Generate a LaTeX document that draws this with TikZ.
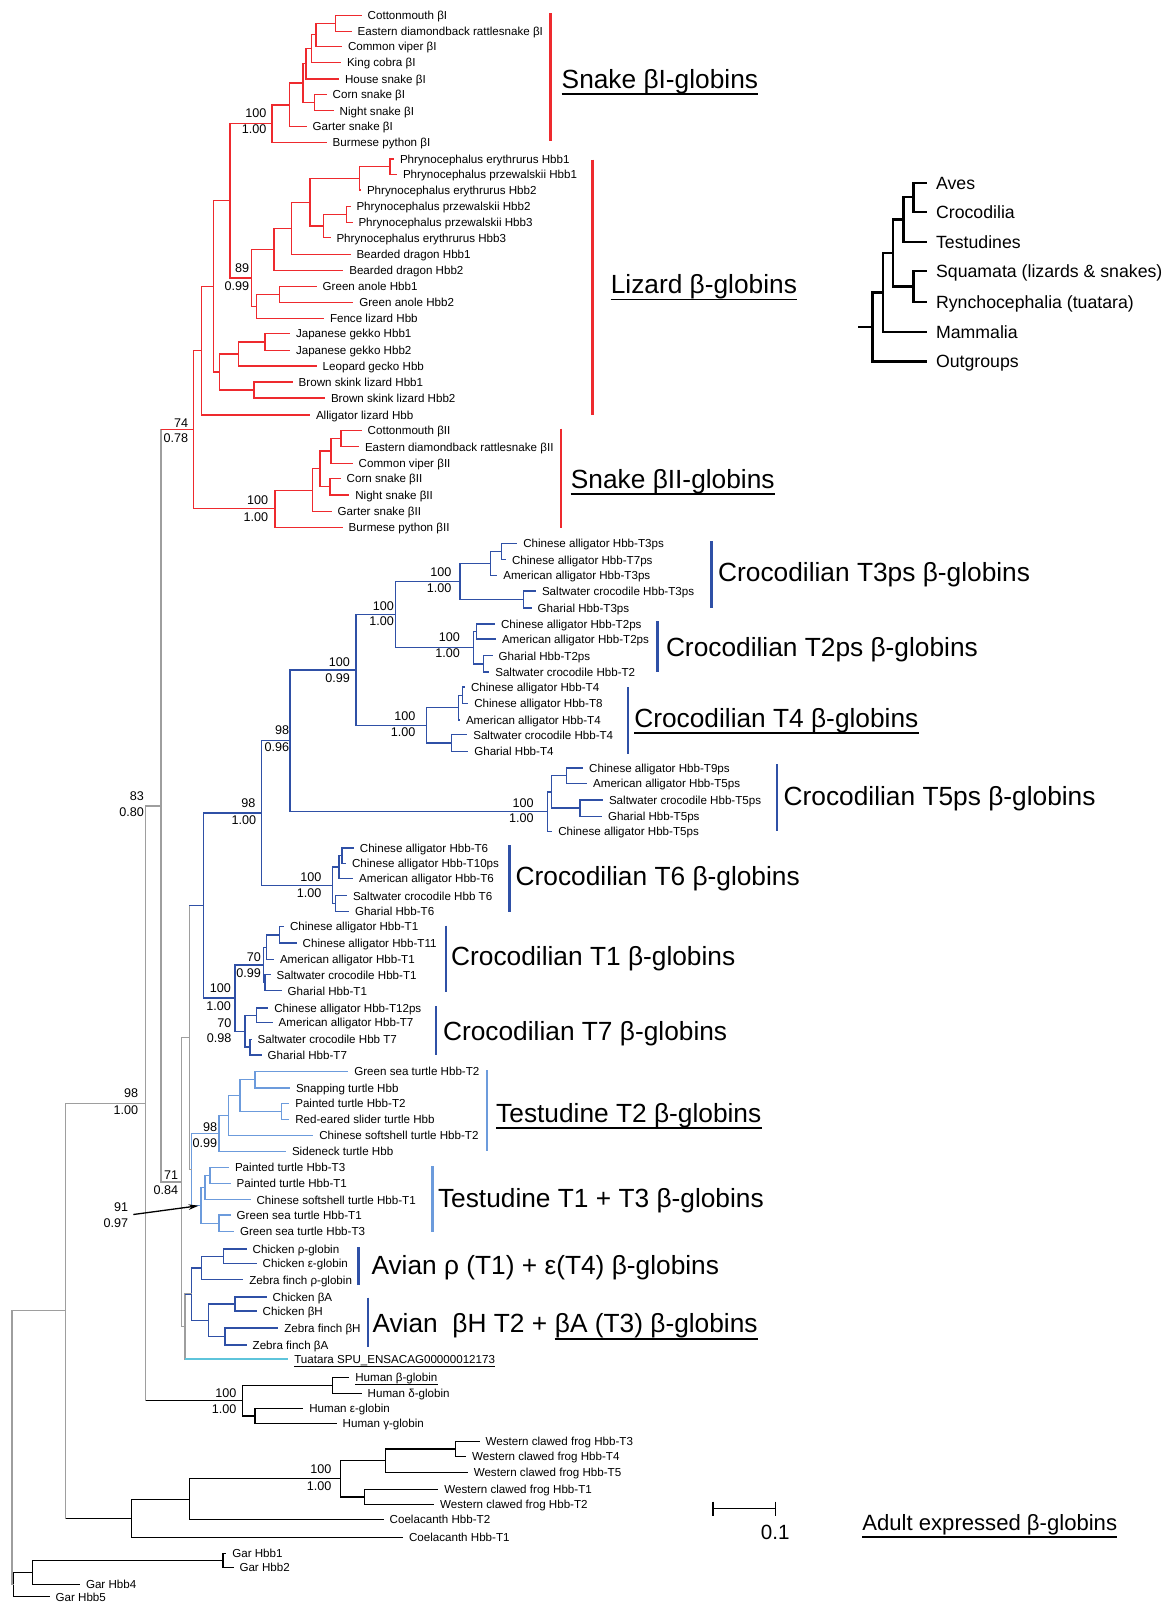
\documentclass[tikz,border=0pt]{standalone}
\usepackage{fontspec}
\setmainfont{Liberation Sans}
\usetikzlibrary{arrows.meta}
\definecolor{cred}{HTML}{EE2A2E}
\definecolor{cblue}{HTML}{2F50A6}
\definecolor{clblue}{HTML}{6C9BDC}
\definecolor{ccyan}{HTML}{5EC4DB}
\definecolor{cgrey}{HTML}{9E9E9E}
\newcommand\Nd[3]{\coordinate (#1) at (#2,#3);}
\newcommand\Lf[4]{\coordinate (#1) at (#2,#3); \node[lf] (#1t) at (#1) {#4};}
\newcommand\Br[3]{\draw[#1] (#2) |- (#3);}
\newcommand\Sp[4]{\node[sup] (#1) at (#2,#3) {#4};}
\newcommand\ULine[3]{\draw[line width=#3] ([yshift=-#2]#1.base west) -- ([yshift=-#2]#1.base east);}
\tikzset{
  rb/.style={draw=cred,line width=1.3pt},
  bb/.style={draw=cblue,line width=1.3pt},
  lb/.style={draw=clblue,line width=1.3pt},
  gb/.style={draw=cgrey,line width=1.4pt},
  kb/.style={draw=black,line width=1.3pt},
  cb/.style={draw=ccyan,line width=1.7pt},
  lf/.style={anchor=base west,inner sep=0pt,xshift=5.8pt,yshift=-4.2pt,font=\fontsize{11.6}{13}\selectfont},
  sup/.style={anchor=base east,inner sep=0pt,yshift=-4.5pt,font=\fontsize{12.6}{14}\selectfont},
  grp/.style={anchor=base west,inner sep=0pt,yshift=-9.4pt,font=\fontsize{26.3}{30}\selectfont},
  inl/.style={anchor=base west,inner sep=0pt,yshift=-6.4pt,font=\fontsize{17.7}{20}\selectfont},
  barl/.style={line width=2.4pt},
  ins/.style={draw=black,line width=2.4pt},
}
\begin{document}
\begin{tikzpicture}[x=1pt,y=-1pt]
\useasboundingbox (0,0) rectangle (1168,1603);
% ===== Snake beta I =====
\Lf{sb1}{361.7}{15.3}{Cottonmouth βI}
\Lf{sb2}{351.7}{31.2}{Eastern diamondback rattlesnake βI}
\Lf{sb3}{342}{46.2}{Common viper βI}
\Lf{sb4}{341}{62.3}{King cobra βI}
\Lf{sb5}{339}{79}{House snake βI}
\Lf{sb6}{326.7}{94.2}{Corn snake βI}
\Lf{sb7}{333.7}{110.8}{Night snake βI}
\Lf{sb8}{306.7}{126.7}{Garter snake βI}
\Lf{sb9}{326.7}{142.3}{Burmese python βI}
\Nd{sn1}{335.7}{23.25}
\Nd{sn2}{316}{34.7}
\Nd{sn3}{311.3}{48.5}
\Nd{sn4}{306}{63.75}
\Nd{sn5}{314.7}{102.5}
\Nd{sn6}{303}{83.1}
\Nd{sn7}{289.3}{104.9}
\Nd{sn8}{272}{123.6}
\Br{rb}{sn1}{sb1}\Br{rb}{sn1}{sb2}
\Br{rb}{sn2}{sn1}\Br{rb}{sn2}{sb3}
\Br{rb}{sn3}{sn2}\Br{rb}{sn3}{sb4}
\Br{rb}{sn4}{sn3}\Br{rb}{sn4}{sb5}
\Br{rb}{sn5}{sb6}\Br{rb}{sn5}{sb7}
\Br{rb}{sn6}{sn4}\Br{rb}{sn6}{sn5}
\Br{rb}{sn7}{sn6}\Br{rb}{sn7}{sb8}
\Br{rb}{sn8}{sn7}\Br{rb}{sn8}{sb9}
% ===== Lizards =====
\Lf{lz1}{394}{159}{Phrynocephalus erythrurus Hbb1}
\Lf{lz2}{397}{174.5}{Phrynocephalus przewalskii Hbb1}
\Lf{lz3}{361}{190}{Phrynocephalus erythrurus Hbb2}
\Lf{lz4}{350.5}{206.3}{Phrynocephalus przewalskii Hbb2}
\Lf{lz5}{352.5}{222.3}{Phrynocephalus przewalskii Hbb3}
\Lf{lz6}{330.5}{237.8}{Phrynocephalus erythrurus Hbb3}
\Lf{lz7}{350.5}{254.3}{Bearded dragon Hbb1}
\Lf{lz8}{343.3}{270.5}{Bearded dragon Hbb2}
\Lf{lz9}{316.7}{286.2}{Green anole Hbb1}
\Lf{lz10}{353.3}{302.7}{Green anole Hbb2}
\Lf{lz11}{324}{318.7}{Fence lizard Hbb}
\Lf{lz12}{290}{333.6}{Japanese gekko Hbb1}
\Lf{lz13}{290}{350.4}{Japanese gekko Hbb2}
\Lf{lz14}{316.7}{366.1}{Leopard gecko Hbb}
\Lf{lz15}{292.7}{382.1}{Brown skink lizard Hbb1}
\Lf{lz16}{325}{398.1}{Brown skink lizard Hbb2}
\Lf{lz17}{310}{415.1}{Alligator lizard Hbb}
\Nd{lzn1}{390}{166.75}
\Nd{lzn2}{359.3}{178.4}
\Nd{lzn3}{346.7}{214.3}
\Nd{lzn4}{323.3}{226}
\Nd{lzn5}{310}{202.2}
\Nd{lzn6}{291.7}{228.25}
\Nd{lzn7}{274}{249.4}
\Nd{lzn8}{279.3}{294.45}
\Nd{lzn9}{256.7}{306.6}
\Nd{lzn10}{251.7}{278}
\Nd{snn}{230}{200.8}
\Nd{gk1}{265}{342}
\Nd{gk2}{238.3}{354}
\Nd{sk1}{254}{390.1}
\Nd{gk3}{219.3}{372}
\Nd{lzn11}{213.3}{286.4}
\Nd{lzn12}{201.7}{350.75}
\Br{rb}{lzn1}{lz1}\Br{rb}{lzn1}{lz2}
\Br{rb}{lzn2}{lzn1}\Br{rb}{lzn2}{lz3}
\Br{rb}{lzn3}{lz4}\Br{rb}{lzn3}{lz5}
\Br{rb}{lzn4}{lzn3}\Br{rb}{lzn4}{lz6}
\Br{rb}{lzn5}{lzn2}\Br{rb}{lzn5}{lzn4}
\Br{rb}{lzn6}{lzn5}\Br{rb}{lzn6}{lz7}
\Br{rb}{lzn7}{lzn6}\Br{rb}{lzn7}{lz8}
\Br{rb}{lzn8}{lz9}\Br{rb}{lzn8}{lz10}
\Br{rb}{lzn9}{lzn8}\Br{rb}{lzn9}{lz11}
\Br{rb}{lzn10}{lzn7}\Br{rb}{lzn10}{lzn9}
\Br{rb}{snn}{sn8}\Br{rb}{snn}{lzn10}
\Br{rb}{gk1}{lz12}\Br{rb}{gk1}{lz13}
\Br{rb}{gk2}{gk1}\Br{rb}{gk2}{lz14}
\Br{rb}{sk1}{lz15}\Br{rb}{sk1}{lz16}
\Br{rb}{gk3}{gk2}\Br{rb}{gk3}{sk1}
\Br{rb}{lzn11}{snn}\Br{rb}{lzn11}{gk3}
\Br{rb}{lzn12}{lzn11}\Br{rb}{lzn12}{lz17}
% ===== Snake beta II =====
\Lf{s2a}{361.7}{430.3}{Cottonmouth βII}
\Lf{s2b}{359}{446.8}{Eastern diamondback rattlesnake βII}
\Lf{s2c}{352.7}{463.3}{Common viper βII}
\Lf{s2d}{340.7}{478.5}{Corn snake βII}
\Lf{s2e}{349.3}{495}{Night snake βII}
\Lf{s2f}{331.7}{511.5}{Garter snake βII}
\Lf{s2g}{342.7}{527.3}{Burmese python βII}
\Nd{s2n1}{341}{438.55}
\Nd{s2n2}{331}{450.9}
\Nd{s2n3}{330}{486.75}
\Nd{s2n4}{320}{468.8}
\Nd{s2n5}{312.7}{490.15}
\Nd{s2n6}{275}{508.7}
\Nd{sq}{193.3}{429.7}
\Br{rb}{s2n1}{s2a}\Br{rb}{s2n1}{s2b}
\Br{rb}{s2n2}{s2n1}\Br{rb}{s2n2}{s2c}
\Br{rb}{s2n3}{s2d}\Br{rb}{s2n3}{s2e}
\Br{rb}{s2n4}{s2n2}\Br{rb}{s2n4}{s2n3}
\Br{rb}{s2n5}{s2n4}\Br{rb}{s2n5}{s2f}
\Br{rb}{s2n6}{s2n5}\Br{rb}{s2n6}{s2g}
\Br{rb}{sq}{lzn12}\Br{rb}{sq}{s2n6}
% ===== Crocodilians =====
\Lf{c1}{517.3}{543.2}{Chinese alligator Hbb-T3ps}
\Lf{c2}{506}{559.8}{Chinese alligator Hbb-T7ps}
\Lf{c3}{497.3}{575.7}{American alligator Hbb-T3ps}
\Lf{c4}{536}{591.1}{Saltwater crocodile Hbb-T3ps}
\Lf{c5}{531.7}{607.9}{Gharial Hbb-T3ps}
\Lf{c6}{495}{624}{Chinese alligator Hbb-T2ps}
\Lf{c7}{496}{639}{American alligator Hbb-T2ps}
\Lf{c8}{492.7}{655.8}{Gharial Hbb-T2ps}
\Lf{c9}{489.3}{672}{Saltwater crocodile Hbb-T2}
\Lf{c10}{465}{687}{Chinese alligator Hbb-T4}
\Lf{c11}{468.3}{703.7}{Chinese alligator Hbb-T8}
\Lf{c12}{460}{720}{American alligator Hbb-T4}
\Lf{c13}{467.3}{734.8}{Saltwater crocodile Hbb-T4}
\Lf{c14}{468.3}{751.4}{Gharial Hbb-T4}
\Lf{c15}{583.2}{768}{Chinese alligator Hbb-T9ps}
\Lf{c16}{587.1}{783.5}{American alligator Hbb-T5ps}
\Lf{c17}{603}{800}{Saltwater crocodile Hbb-T5ps}
\Lf{c18}{602}{816.2}{Gharial Hbb-T5ps}
\Lf{c19}{552.3}{831.3}{Chinese alligator Hbb-T5ps}
\Lf{c20}{353.9}{847.9}{Chinese alligator Hbb-T6}
\Lf{c21}{346}{863.3}{Chinese alligator Hbb-T10ps}
\Lf{c22}{353.1}{878.6}{American alligator Hbb-T6}
\Lf{c23}{347}{895.8}{Saltwater crocodile Hbb T6}
\Lf{c24}{349}{911.5}{Gharial Hbb-T6}
\Lf{c25}{284}{926.7}{Chinese alligator Hbb-T1}
\Lf{c26}{296.7}{943.1}{Chinese alligator Hbb-T11}
\Lf{c27}{274}{959.7}{American alligator Hbb-T1}
\Lf{c28}{270.7}{974.8}{Saltwater crocodile Hbb-T1}
\Lf{c29}{281.7}{990.8}{Gharial Hbb-T1}
\Lf{c30}{268.3}{1007.9}{Chinese alligator Hbb-T12ps}
\Lf{c31}{272.7}{1022.7}{American alligator Hbb-T7}
\Lf{c32}{251.7}{1039.2}{Saltwater crocodile Hbb T7}
\Lf{c33}{261.7}{1055}{Gharial Hbb-T7}
\Nd{cn1}{501.7}{551.5}
\Nd{cn2}{490.7}{563.6}
\Nd{cn3}{523.3}{599.5}
\Nd{cn4}{460}{581.55}
\Nd{cn5}{476.7}{631.5}
\Nd{cn6}{483.3}{663.9}
\Nd{cn7}{473.3}{647.7}
\Nd{cn8}{395.7}{614.6}
\Nd{cn9}{462.3}{695.35}
\Nd{cn10}{458.3}{707.7}
\Nd{cn11}{451.7}{743.1}
\Nd{cn12}{426.7}{725.4}
\Nd{cn13}{356}{670}
\Nd{cn14}{566.6}{775.75}
\Nd{cn15}{580}{808.1}
\Nd{cn16}{551.5}{791.9}
\Nd{cn17}{547.6}{811.6}
\Nd{cn18}{290}{740.8}
\Nd{cn19}{342}{855.6}
\Nd{cn20}{338.9}{867.1}
\Nd{cn21}{335.7}{903.65}
\Nd{cn22}{332.2}{885.4}
\Nd{cn23}{261.8}{813.1}
\Nd{cn24}{279.3}{934.9}
\Nd{cn25}{266.7}{947.3}
\Nd{cn26}{265}{982.8}
\Nd{cn27}{263.3}{965.05}
\Nd{cn28}{256.7}{1015.3}
\Nd{cn29}{250}{1047.1}
\Nd{cn30}{245}{1031.2}
\Nd{cn31}{235}{998.1}
\Nd{cn32}{203.3}{905.6}
\Br{bb}{cn1}{c1}\Br{bb}{cn1}{c2}
\Br{bb}{cn2}{cn1}\Br{bb}{cn2}{c3}
\Br{bb}{cn3}{c4}\Br{bb}{cn3}{c5}
\Br{bb}{cn4}{cn2}\Br{bb}{cn4}{cn3}
\Br{bb}{cn5}{c6}\Br{bb}{cn5}{c7}
\Br{bb}{cn6}{c8}\Br{bb}{cn6}{c9}
\Br{bb}{cn7}{cn5}\Br{bb}{cn7}{cn6}
\Br{bb}{cn8}{cn4}\Br{bb}{cn8}{cn7}
\Br{bb}{cn9}{c10}\Br{bb}{cn9}{c11}
\Br{bb}{cn10}{cn9}\Br{bb}{cn10}{c12}
\Br{bb}{cn11}{c13}\Br{bb}{cn11}{c14}
\Br{bb}{cn12}{cn10}\Br{bb}{cn12}{cn11}
\Br{bb}{cn13}{cn8}\Br{bb}{cn13}{cn12}
\Br{bb}{cn14}{c15}\Br{bb}{cn14}{c16}
\Br{bb}{cn15}{c17}\Br{bb}{cn15}{c18}
\Br{bb}{cn16}{cn14}\Br{bb}{cn16}{cn15}
\Br{bb}{cn17}{cn16}\Br{bb}{cn17}{c19}
\Br{bb}{cn18}{cn13}\Br{bb}{cn18}{cn17}
\Br{bb}{cn19}{c20}\Br{bb}{cn19}{c21}
\Br{bb}{cn20}{cn19}\Br{bb}{cn20}{c22}
\Br{bb}{cn21}{c23}\Br{bb}{cn21}{c24}
\Br{bb}{cn22}{cn20}\Br{bb}{cn22}{cn21}
\Br{bb}{cn23}{cn18}\Br{bb}{cn23}{cn22}
\Br{bb}{cn24}{c25}\Br{bb}{cn24}{c26}
\Br{bb}{cn25}{cn24}\Br{bb}{cn25}{c27}
\Br{bb}{cn26}{c28}\Br{bb}{cn26}{c29}
\Br{bb}{cn27}{cn25}\Br{bb}{cn27}{cn26}
\Br{bb}{cn28}{c30}\Br{bb}{cn28}{c31}
\Br{bb}{cn29}{c32}\Br{bb}{cn29}{c33}
\Br{bb}{cn30}{cn28}\Br{bb}{cn30}{cn29}
\Br{bb}{cn31}{cn27}\Br{bb}{cn31}{cn30}
\Br{bb}{cn32}{cn23}\Br{bb}{cn32}{cn31}
% ===== Testudines =====
\Lf{t1}{348.3}{1071.5}{Green sea turtle Hbb-T2}
\Lf{t2}{290}{1087.9}{Snapping turtle Hbb}
\Lf{t3}{289.3}{1103.5}{Painted turtle Hbb-T2}
\Lf{t4}{289.3}{1119.2}{Red-eared slider turtle Hbb}
\Lf{t5}{313.3}{1135.6}{Chinese softshell turtle Hbb-T2}
\Lf{t6}{286}{1151.2}{Sideneck turtle Hbb}
\Lf{t7}{229}{1167.2}{Painted turtle Hbb-T3}
\Lf{t8}{230.7}{1183.4}{Painted turtle Hbb-T1}
\Lf{t9}{250.5}{1199.8}{Chinese softshell turtle Hbb-T1}
\Lf{t10}{230.7}{1215.1}{Green sea turtle Hbb-T1}
\Lf{t11}{234}{1231.5}{Green sea turtle Hbb-T3}
\Nd{tn1}{255}{1079.7}
\Nd{tn2}{281.7}{1111.35}
\Nd{tn3}{240}{1095.5}
\Nd{tn4}{228.3}{1115.55}
\Nd{tn5}{219}{1133.4}
\Nd{tn6}{210}{1175.3}
\Nd{tn7}{205}{1187.55}
\Nd{tn8}{219}{1223.3}
\Nd{tn9}{201}{1205.4}
\Nd{tn10}{191.7}{1169.4}
\Br{lb}{tn1}{t1}\Br{lb}{tn1}{t2}
\Br{lb}{tn2}{t3}\Br{lb}{tn2}{t4}
\Br{lb}{tn3}{tn1}\Br{lb}{tn3}{tn2}
\Br{lb}{tn4}{tn3}\Br{lb}{tn4}{t5}
\Br{lb}{tn5}{tn4}\Br{lb}{tn5}{t6}
\Br{lb}{tn6}{t7}\Br{lb}{tn6}{t8}
\Br{lb}{tn7}{tn6}\Br{lb}{tn7}{t9}
\Br{lb}{tn8}{t10}\Br{lb}{tn8}{t11}
\Br{lb}{tn9}{tn7}\Br{lb}{tn9}{tn8}
\Br{lb}{tn10}{tn5}\Br{lb}{tn10}{tn9}
% ===== Avian =====
\Lf{a1}{246.7}{1249}{Chicken ρ-globin}
\Lf{a2}{256.7}{1263.3}{Chicken ε-globin}
\Lf{a3}{243.3}{1279.8}{Zebra finch ρ-globin}
\Lf{a4}{266.7}{1297.1}{Chicken βA}
\Lf{a5}{256.7}{1311.1}{Chicken βH}
\Lf{a6}{278.3}{1328}{Zebra finch βH}
\Lf{a7}{246.7}{1345}{Zebra finch βA}
\Nd{an1}{223.8}{1256.15}
\Nd{an2}{201.7}{1268}
\Nd{an3}{235}{1304.1}
\Nd{an4}{225}{1336.5}
\Nd{an5}{208.3}{1320.3}
\Nd{an6}{191.7}{1294.15}
\Br{bb}{an1}{a1}\Br{bb}{an1}{a2}
\Br{bb}{an2}{an1}\Br{bb}{an2}{a3}
\Br{bb}{an3}{a4}\Br{bb}{an3}{a5}
\Br{bb}{an4}{a6}\Br{bb}{an4}{a7}
\Br{bb}{an5}{an3}\Br{bb}{an5}{an4}
\Br{bb}{an6}{an2}\Br{bb}{an6}{an5}
% tuatara
\Lf{tu}{288.3}{1359}{Tuatara SPU\_ENSACAG00000012173}
% ===== Human =====
\Lf{h1}{349.3}{1377.3}{Human β-globin}
\Lf{h2}{361.7}{1393.2}{Human δ-globin}
\Lf{h3}{303.3}{1408.4}{Human ε-globin}
\Lf{h4}{336.7}{1423.5}{Human γ-globin}
\Nd{hn1}{332.7}{1385.25}
\Nd{hn2}{255}{1415.95}
\Nd{hn3}{242.3}{1400.6}
\Br{kb}{hn1}{h1}\Br{kb}{hn1}{h2}
\Br{kb}{hn2}{h3}\Br{kb}{hn2}{h4}
\Br{kb}{hn3}{hn1}\Br{kb}{hn3}{hn2}
% ===== Frog / coelacanth =====
\Lf{f1}{479.6}{1441.5}{Western clawed frog Hbb-T3}
\Lf{f2}{466.1}{1456.3}{Western clawed frog Hbb-T4}
\Lf{f3}{467.8}{1472.3}{Western clawed frog Hbb-T5}
\Lf{f4}{438.4}{1489.4}{Western clawed frog Hbb-T1}
\Lf{f5}{434.2}{1504.5}{Western clawed frog Hbb-T2}
\Lf{f6}{383.7}{1519.6}{Coelacanth Hbb-T2}
\Lf{f7}{403}{1537.3}{Coelacanth Hbb-T1}
\Nd{fn1}{455.6}{1448.9}
\Nd{fn2}{385.8}{1460.6}
\Nd{fn3}{364.3}{1496.95}
\Nd{fn4}{340.8}{1478.8}
\Nd{fn5}{189.3}{1499.2}
\Nd{fn6}{131.3}{1518.25}
\Br{kb}{fn1}{f1}\Br{kb}{fn1}{f2}
\Br{kb}{fn2}{fn1}\Br{kb}{fn2}{f3}
\Br{kb}{fn3}{f4}\Br{kb}{fn3}{f5}
\Br{kb}{fn4}{fn2}\Br{kb}{fn4}{fn3}
\Br{kb}{fn5}{fn4}\Br{kb}{fn5}{f6}
\Br{kb}{fn6}{fn5}\Br{kb}{fn6}{f7}
% ===== Gar =====
\Lf{g1}{226.3}{1553.5}{Gar Hbb1}
\Lf{g2}{233.5}{1567.5}{Gar Hbb2}
\Lf{g3}{80}{1584.3}{Gar Hbb4}
\Lf{g4}{49.6}{1596.8}{Gar Hbb5}
\Nd{gn1}{223}{1560.5}
\Nd{gn2}{32.8}{1572.4}
\Nd{gn3}{13.5}{1584.6}
\Br{kb}{gn1}{g1}\Br{kb}{gn1}{g2}
\Br{kb}{gn2}{gn1}\Br{kb}{gn2}{g3}
\Br{kb}{gn3}{gn2}\Br{kb}{gn3}{g4}
% ===== Trunk =====
\Nd{R0}{11.8}{1447.7}
\Nd{R1}{65.5}{1310.75}
\Nd{R2}{145.7}{1103.25}
\Nd{R3}{161}{805.9}
\Nd{R4}{181.7}{1182.05}
\Nd{R5}{189.3}{1037.5}
\Nd{R6}{185}{1326.6}
\Br{gb}{R0}{R1}\Br{gb}{R0}{gn3}
\Br{gb}{R1}{R2}
\Br{gb}{R1}{fn6}\draw[kb] (R1 |- fn6) -- (fn6);
\Br{gb}{R2}{R3}
\Br{gb}{R2}{hn3}\draw[kb] (R2 |- hn3) -- (hn3);
\Br{gb}{R3}{sq}\draw[rb] (R3 |- sq) -- (sq);
\Br{gb}{R3}{R4}
\Br{gb}{R4}{R5}\Br{gb}{R4}{R6}
\Br{gb}{R5}{cn32}\draw[bb] (R5 |- cn32) -- (cn32);
\Br{gb}{R5}{tn10}
\Br{gb}{R6}{an6}\draw[bb] (R6 |- an6) -- (an6);
\Br{gb}{R6}{tu}\draw[cb] (R6 |- tu) -- (tu);
% ===== Support values =====
\Sp{p1a}{266.7}{113.3}{100}\Sp{p1b}{266.7}{129.3}{1.00}
\Sp{p2a}{249.3}{268.3}{89}\Sp{p2b}{249.3}{285.7}{0.99}
\Sp{p3a}{188.3}{422.7}{74}\Sp{p3b}{188.3}{438.3}{0.78}
\Sp{p4a}{268.3}{500}{100}\Sp{p4b}{268.3}{516.7}{1.00}
\Sp{p5a}{451.7}{571.7}{100}\Sp{p5b}{451.7}{588.3}{1.00}
\Sp{p6a}{394}{606}{100}\Sp{p6b}{394}{621}{1.00}
\Sp{p7a}{460}{637.3}{100}\Sp{p7b}{460}{653.3}{1.00}
\Sp{p8a}{350}{661.7}{100}\Sp{p8b}{350}{678.3}{0.99}
\Sp{p9a}{415.7}{715.7}{100}\Sp{p9b}{415.7}{732.3}{1.00}
\Sp{p10a}{289.3}{730}{98}\Sp{p10b}{289.3}{746.7}{0.96}
\Sp{p11a}{255.5}{803.3}{98}\Sp{p11b}{256.3}{820}{1.00}
\Sp{p12a}{533.8}{802.9}{100}\Sp{p12b}{533.8}{818.2}{1.00}
\Sp{p13a}{321.5}{876.7}{100}\Sp{p13b}{321.5}{892.7}{1.00}
\Sp{p14a}{144.2}{795.7}{83}\Sp{p14b}{144.2}{812}{0.80}
\Sp{p15a}{261}{956.7}{70}\Sp{p15b}{261}{972.7}{0.99}
\Sp{p16a}{231}{988.3}{100}\Sp{p16b}{231}{1006}{1.00}
\Sp{p17a}{231.7}{1022.7}{70}\Sp{p17b}{231.7}{1037.7}{0.98}
\Sp{p18a}{138.3}{1093.3}{98}\Sp{p18b}{138.3}{1110}{1.00}
\Sp{p19a}{217.3}{1126.7}{98}\Sp{p19b}{217.3}{1142.7}{0.99}
\Sp{p20a}{178.3}{1175}{71}\Sp{p20b}{178.3}{1190}{0.84}
\Sp{p21a}{128.3}{1206.7}{91}\Sp{p21b}{128.3}{1223.3}{0.97}
\Sp{p22a}{236.7}{1392.7}{100}\Sp{p22b}{236.7}{1409}{1.00}
\Sp{p23a}{331.5}{1469.3}{100}\Sp{p23b}{331.5}{1486}{1.00}
% arrow to 91/0.97 node
\coordinate (arS) at (133.3,1214.5);
\draw[line width=1.3pt,-{Stealth[length=10pt,width=5.5pt]},shorten >=2.5pt] (arS) -- (tn9);
% ===== Group bars and labels =====
\draw[barl,cred] (550.3,13.5) -- (550.3,141);
\draw[barl,cred] (592.5,159.6) -- (592.5,415.3);
\draw[barl,cred] (560.8,428.5) -- (560.8,527.8);
\draw[barl,cblue] (711.5,541) -- (711.5,607.5);
\draw[barl,cblue] (657.5,621) -- (657.5,672);
\draw[barl,cblue] (628,687.3) -- (628,753.8);
\draw[barl,cblue] (777,764) -- (777,830.5);
\draw[barl,cblue] (509.4,845) -- (509.4,912.3);
\draw[barl,cblue] (446,925.6) -- (446,992);
\draw[barl,cblue] (435.7,1006.4) -- (435.7,1054.5);
\draw[barl,clblue] (486.8,1070) -- (486.8,1150.7);
\draw[barl,clblue] (432.3,1166) -- (432.3,1231.7);
\draw[barl,cblue] (358.3,1247) -- (358.3,1284.5);
\draw[barl,cblue] (367.7,1297.7) -- (367.7,1346.7);
\node[grp] (gSb1) at (561.5,78.8) {Snake βI-globins};
\node[grp] (gLz) at (610.6,284.3) {Lizard β-globins};
\node[grp] (gSb2) at (570.7,478.7) {Snake βII-globins};
\node[grp] (gT3) at (718,571.7) {Crocodilian T3ps β-globins};
\node[grp] (gT2) at (665.8,647.4) {Crocodilian T2ps β-globins};
\node[grp] (gT4) at (634.1,718) {Crocodilian T4 β-globins};
\node[grp] (gT5) at (783.5,795.7) {Crocodilian T5ps β-globins};
\node[grp] (gT6) at (515.5,876.5) {Crocodilian T6 β-globins};
\node[grp] (gT1) at (451,956.3) {Crocodilian T1 β-globins};
\node[grp] (gT7) at (442.9,1031) {Crocodilian T7 β-globins};
\node[grp] (gTe2) at (496,1112.8) {Testudine T2 β-globins};
\node[grp] (gTe1) at (437.8,1197.7) {Testudine T1 + T3 β-globins};
\node[grp] (gAv1) at (371.3,1265.2) {Avian ρ (T1) + ε(T4) β-globins};
\node[grp] (gAv2) at (372.3,1323.5) {Avian~~βH T2 +};
\node[anchor=base west,inner sep=0pt,xshift=7.3pt,font=\fontsize{26.3}{30}\selectfont] (gAv3) at (gAv2.base east) {βA (T3) β-globins};
\ULine{gSb1}{5.8pt}{1.8pt}
\ULine{gLz}{5.8pt}{1.8pt}
\ULine{gSb2}{5.8pt}{1.8pt}
\ULine{gT4}{5.8pt}{1.8pt}
\ULine{gTe2}{5.8pt}{1.8pt}
\ULine{gAv3}{5.8pt}{1.8pt}
\ULine{h1t}{3.3pt}{1pt}
\ULine{tut}{3.3pt}{1pt}
% ===== Scale bar and note =====
\coordinate (sbL) at (712.9,1508.6);
\coordinate (sbR) at (775.3,1508.6);
\draw[line width=1.5pt] (sbL) -- (sbR);
\draw[line width=1.5pt] ([yshift=7pt]sbL) -- ([yshift=-7pt]sbL);
\draw[line width=1.5pt] ([yshift=7pt]sbR) -- ([yshift=-7pt]sbR);
\node[anchor=base,inner sep=0pt,yshift=-7.4pt,font=\fontsize{20.6}{24}\selectfont] (sbT) at (775.3,1532.2) {0.1};
\node[anchor=base west,inner sep=0pt,yshift=-7.9pt,font=\fontsize{22.1}{26}\selectfont] (adult) at (862.2,1523) {Adult expressed β-globins};
\ULine{adult}{6pt}{1.8pt}
% ===== Species tree inset =====
\coordinate (iAv) at (927.3,182.8);
\coordinate (iCr) at (927.3,211.7);
\coordinate (iTe) at (927.3,242);
\coordinate (iSq) at (927.3,271);
\coordinate (iRy) at (927.3,302);
\coordinate (iMa) at (927.3,331.8);
\coordinate (iOu) at (927.3,361.3);
\node[inl] (iAvt) at (935.9,182.8) {Aves};
\node[inl] (iCrt) at (935.9,211.7) {Crocodilia};
\node[inl] (iTet) at (935.9,242) {Testudines};
\node[inl] (iSqt) at (935.9,271) {Squamata (lizards \& snakes)};
\node[inl] (iRyt) at (935.9,302) {Rynchocephalia (tuatara)};
\node[inl] (iMat) at (935.9,331.8) {Mammalia};
\node[inl] (iOut) at (935.9,361.3) {Outgroups};
\coordinate (in1) at (913.3,197.25);
\coordinate (in2) at (903.3,219.6);
\coordinate (in3) at (913.3,286.5);
\coordinate (in4) at (892.7,253);
\coordinate (in5) at (882.7,292.4);
\coordinate (in6) at (872.3,326.85);
\coordinate (inR) at (858.3,326.85);
\draw[ins] (in1) |- (iAv); \draw[ins] (in1) |- (iCr);
\draw[ins] (in2) |- (in1); \draw[ins] (in2) |- (iTe);
\draw[ins] (in3) |- (iSq); \draw[ins] (in3) |- (iRy);
\draw[ins] (in4) |- (in2); \draw[ins] (in4) |- (in3);
\draw[ins] (in5) |- (in4); \draw[ins] (in5) |- (iMa);
\draw[ins] (in6) |- (in5); \draw[ins] (in6) |- (iOu);
\draw[ins] (inR) -- (in6);
\end{tikzpicture}
\end{document}
